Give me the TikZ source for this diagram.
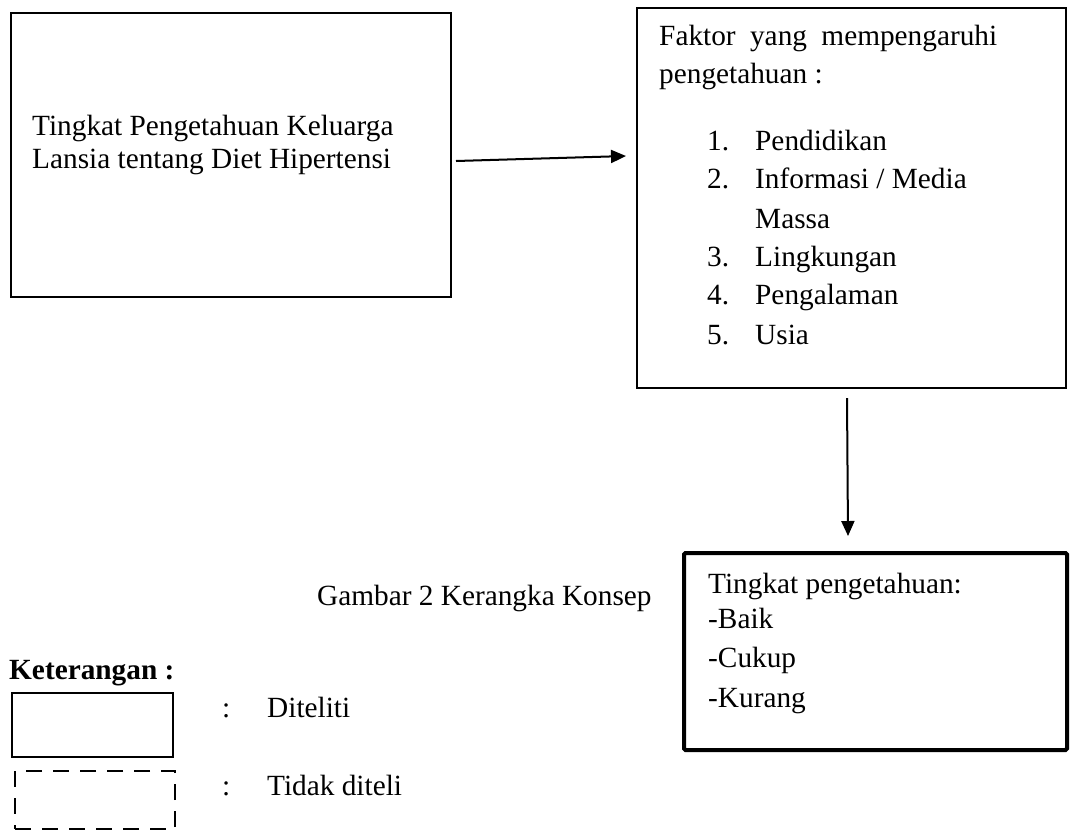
\documentclass[tikz,border=0pt]{standalone}
\usepackage{fontspec}
\setmainfont{Liberation Serif}
\usepackage{xcolor}
\usetikzlibrary{arrows.meta}

\begin{document}
\begin{tikzpicture}[x=1pt,y=-1pt,
	kotak/.style={draw, line width=2pt, inner sep=0pt},
	teks/.style={inner sep=0pt, align=left, font=\fontsize{29.3}{38}\selectfont},
	panah/.style={line width=2pt, -{Triangle[length=15pt,width=13pt]}}]
	\useasboundingbox (0,0) rectangle (1070,831);

	\node[kotak, minimum width=440pt, minimum height=284pt] (tingkat) at (231,155) {};
	\node[teks, anchor=north west, font=\fontsize{29.3}{33}\selectfont] (tingkatteks) at (32,115) {Tingkat Pengetahuan Keluarga\\Lansia tentang Diet Hipertensi};

	\node[kotak, minimum width=429pt, minimum height=380pt] (faktor) at (851.5,198) {};
	\node[teks, anchor=north west] (faktorteks) at (659,25) {\makebox[338pt][s]{Faktor yang mempengaruhi}\\
		pengetahuan :\\[29pt]
		\hspace*{48pt}\makebox[48pt][l]{1.}Pendidikan\\
		\hspace*{48pt}\makebox[48pt][l]{2.}Informasi / Media\\[2pt]
		\hspace*{96pt}Massa\\
		\hspace*{48pt}\makebox[48pt][l]{3.}Lingkungan\\
		\hspace*{48pt}\makebox[48pt][l]{4.}Pengalaman\\[2pt]
		\hspace*{48pt}\makebox[48pt][l]{5.}Usia};

	\node[kotak, line width=4pt, rounded corners=1.5pt, minimum width=383pt, minimum height=197pt] (hasil) at (875.5,651.5) {};
	\node[teks, anchor=north west] (hasilteks) at (708,573) {Tingkat pengetahuan:\\[-3pt]-Baik\\[1pt]-Cukup\\[2pt]-Kurang};

	\draw[panah] ([shift={(4,6)}]tingkat.east) -- ([shift={(-10,-42)}]faktor.west);
	\draw[panah] ([shift={(-4.5,9)}]faktor.south) -- ([shift={(-27.5,-15)}]hasil.north);

	\node[teks, anchor=base west] (judul) at (317,605) {Gambar 2 Kerangka Konsep};

	\node[teks, anchor=base west, font=\fontsize{29.3}{38}\selectfont\bfseries] (keterangan) at (9,679) {Keterangan :};
	\node[kotak, minimum width=161pt, minimum height=64pt] (diteliti) at (92.5,725) {};
	\node[kotak, dash pattern=on 16pt off 11pt, minimum width=160pt, minimum height=58pt] (tidakditeliti) at (95,800) {};
	\node[teks, anchor=base west] (ketditeliti) at (222,717) {\makebox[45pt][l]{:}Diteliti};
	\node[teks, anchor=base west] (kettidak) at (222,795) {\makebox[45pt][l]{:}Tidak diteli};
\end{tikzpicture}
\end{document}
